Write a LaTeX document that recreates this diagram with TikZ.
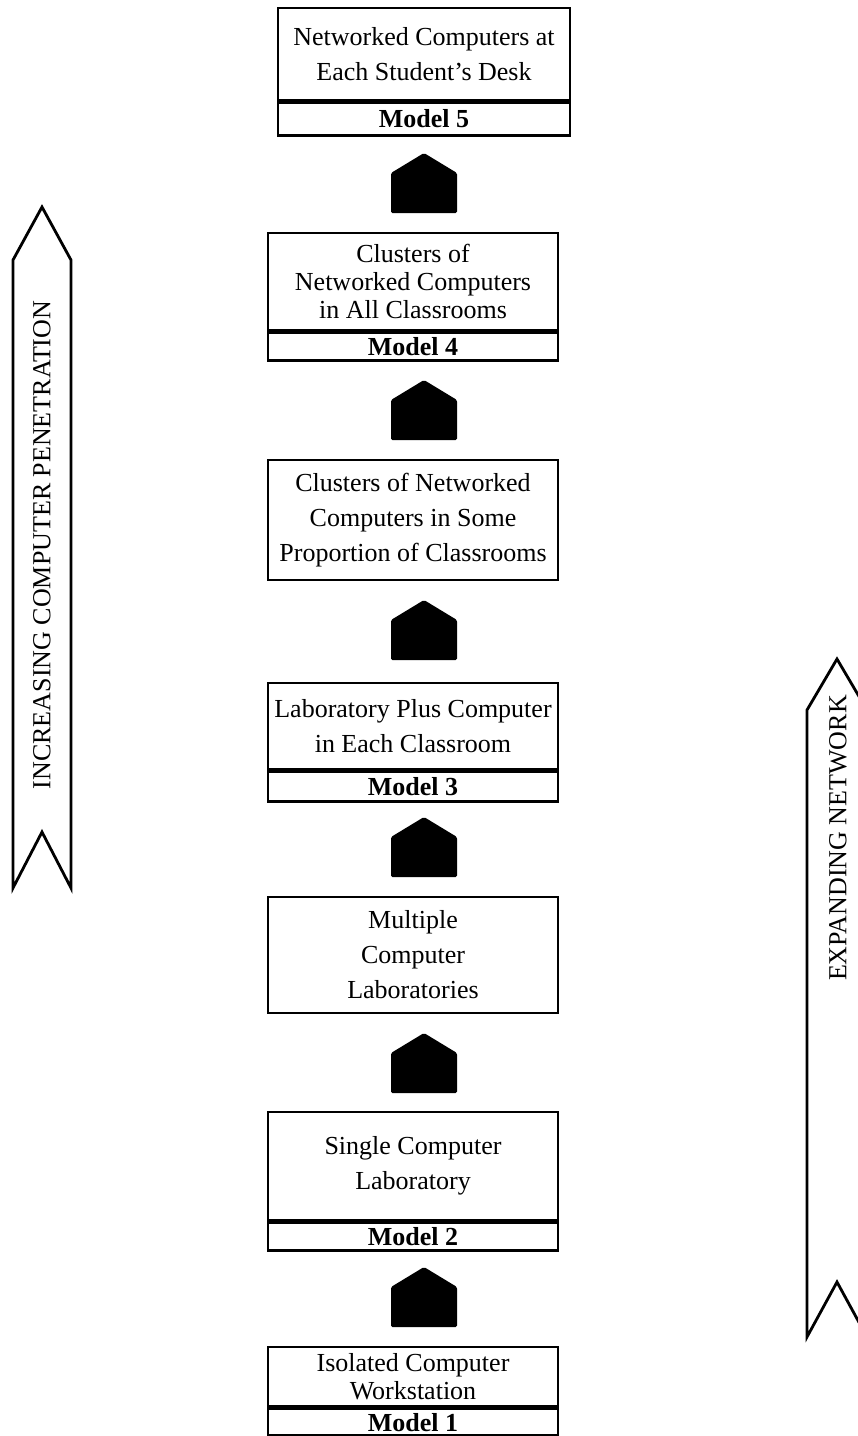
\documentclass[tikz,border=0pt]{standalone}
\usepackage{fontspec}
\setmainfont{Liberation Serif}
\begin{document}
\begin{tikzpicture}[x=1pt,y=-1pt,
  line join=miter,
  stage/.style={draw, line width=2.6pt, align=center, inner sep=0pt,
    font=\fontsize{26}{35}\selectfont},
  tight/.style={font=\fontsize{26}{28}\selectfont},
  tag/.style={draw, line width=2.6pt, inner sep=0pt,
    font=\fontsize{26}{30}\selectfont\bfseries},
  banner/.style={draw, line width=2.8pt, line join=miter},
  bannertext/.style={rotate=90, font=\fontsize{26}{30}\selectfont},
  house/.pic={\fill[rounded corners=1.5pt] (-33,0) -- (-33,-40) -- (0,-60) -- (33,-40) -- (33,0) -- cycle;}
]
\useasboundingbox (0,0) rectangle (858,1436);

% Model 5
\node[stage, minimum width=292pt, minimum height=92pt] (s5) at (424,54)
  {Networked Computers at\\Each Student's Desk};
\node[tag, minimum width=292pt, minimum height=33pt, anchor=north] (m5) at (s5.south) {Model 5};

% Model 4
\node[stage, tight, minimum width=290pt, minimum height=97pt] (s4) at (413,281.5)
  {Clusters of\\Networked Computers\\in All Classrooms};
\node[tag, minimum width=290pt, minimum height=28pt, anchor=north] (m4) at (s4.south) {Model 4};

% intermediate stage
\node[stage, minimum width=290pt, minimum height=120pt] (s35) at (413,520)
  {Clusters of Networked\\Computers in Some\\Proportion of Classrooms};

% Model 3
\node[stage, minimum width=290pt, minimum height=86pt] (s3) at (413,726)
  {Laboratory Plus Computer\\in Each Classroom};
\node[tag, minimum width=290pt, minimum height=30pt, anchor=north] (m3) at (s3.south) {Model 3};

% intermediate stage
\node[stage, minimum width=290pt, minimum height=116pt] (s25) at (413,955)
  {Multiple\\Computer\\Laboratories};

% Model 2
\node[stage, minimum width=290pt, minimum height=108pt] (s2) at (413,1166)
  {Single Computer\\Laboratory};
\node[tag, minimum width=290pt, minimum height=28pt, anchor=north] (m2) at (s2.south) {Model 2};

% Model 1
\node[stage, tight, minimum width=290pt, minimum height=59pt] (s1) at (413,1376.5)
  {Isolated Computer\\Workstation};
\node[tag, minimum width=290pt, minimum height=27pt, anchor=north] (m1) at (s1.south) {Model 1};

% block arrows between stages
\coordinate (a1) at (424,1327);
\coordinate (a2) at (424,1093);
\coordinate (a3) at (424,877);
\coordinate (a4) at (424,660);
\coordinate (a5) at (424,440);
\coordinate (a6) at (424,213);
\foreach \c in {a1,a2,a3,a4,a5,a6} \pic at (\c) {house};

% side banners
\draw[banner] (13,260) -- (42,207) -- (71,260) -- (71,888) -- (42,832) -- (13,888) -- cycle;
\node[bannertext] (pen) at (42,545) {INCREASING COMPUTER PENETRATION};

\draw[banner] (807,710) -- (837,659) -- (867,710) -- (867,1337) -- (837,1282) -- (807,1337) -- cycle;
\node[bannertext] (net) at (838,838) {EXPANDING NETWORK};
\end{tikzpicture}
\end{document}
